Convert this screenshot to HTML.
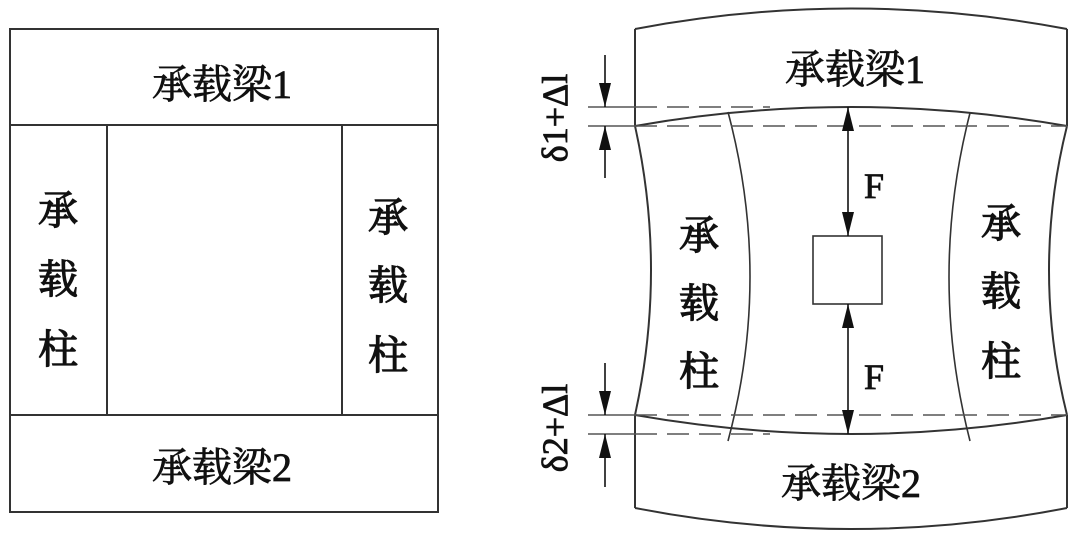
<!DOCTYPE html>
<html><head><meta charset="utf-8"><style>
html,body{margin:0;padding:0;background:#fff;}
svg{display:block;}
text{font-family:"Liberation Serif","Noto Serif CJK SC","Noto Sans CJK SC",serif;fill:#111;}
</style></head><body>
<svg width="1080" height="538" viewBox="0 0 1080 538" xmlns="http://www.w3.org/2000/svg">
<defs>
<marker id="ah2" viewBox="0 0 24 12" refX="24" refY="6" markerWidth="24" markerHeight="12" orient="auto" markerUnits="userSpaceOnUse">
<path d="M0,0 L24,6 L0,12 z" fill="#111"/></marker>
</defs>
<g fill="none" stroke="#333" stroke-width="2">
<rect x="10" y="29" width="428" height="483"/>
<line x1="10" y1="125" x2="438" y2="125"/>
<line x1="10" y1="415" x2="438" y2="415"/>
<line x1="107" y1="125" x2="107" y2="415"/>
<line x1="342" y1="125" x2="342" y2="415"/>
</g>
<g font-size="40" text-anchor="middle" stroke="#111" stroke-width="0.8">
<text x="222" y="98">承载梁1</text>
<text x="222" y="481">承载梁2</text>
</g>
<g font-size="40" text-anchor="middle" stroke="#111" stroke-width="1.2">
<text x="58" y="224">承</text><text x="58" y="293">载</text><text x="58" y="363">柱</text>
<text x="388" y="231">承</text><text x="388" y="299">载</text><text x="388" y="369">柱</text>
</g>

<g fill="none" stroke="#333" stroke-width="2">
<path d="M635,29 Q851,-12 1067,29"/>
<line x1="635" y1="29" x2="635" y2="126"/>
<line x1="1067" y1="29" x2="1067" y2="126"/>
<path d="M635,126 Q851,88 1067,126"/>
<path d="M635,126 Q667,270 635,415"/>
<path d="M1067,126 Q1031,270 1067,415"/>
<path d="M728,112 Q772,277 728,441" stroke-width="1.6"/>
<path d="M970,113 Q928,277 970,441" stroke-width="1.6"/>
<path d="M635,415 Q851,453 1067,415"/>
<line x1="635" y1="415" x2="635" y2="508"/>
<line x1="1067" y1="415" x2="1067" y2="508"/>
<path d="M635,508 Q851,550 1067,508"/>
<rect x="813" y="236" width="69" height="68" stroke-width="1.6"/>
</g>
<g stroke="#555" stroke-width="1.5" fill="none">
<line x1="588" y1="107" x2="635" y2="107"/>
<line x1="635" y1="107" x2="770" y2="107" stroke-dasharray="22,10"/>
<line x1="588" y1="126" x2="635" y2="126"/>
<line x1="635" y1="126" x2="1067" y2="126" stroke-dasharray="22,10"/>
<line x1="588" y1="415" x2="635" y2="415"/>
<line x1="635" y1="415" x2="1067" y2="415" stroke-dasharray="22,10"/>
<line x1="588" y1="434" x2="635" y2="434"/>
<line x1="635" y1="434" x2="770" y2="434" stroke-dasharray="22,10"/>
</g>
<g stroke="#111" stroke-width="1.6">
<line x1="605" y1="55" x2="605" y2="107" marker-end="url(#ah2)"/>
<line x1="605" y1="178" x2="605" y2="126" marker-end="url(#ah2)"/>
<line x1="605" y1="363" x2="605" y2="415" marker-end="url(#ah2)"/>
<line x1="605" y1="487" x2="605" y2="434" marker-end="url(#ah2)"/>
<line x1="848" y1="170" x2="848" y2="107" marker-end="url(#ah2)"/>
<line x1="848" y1="170" x2="848" y2="236" marker-end="url(#ah2)"/>
<line x1="848" y1="370" x2="848" y2="304" marker-end="url(#ah2)"/>
<line x1="848" y1="370" x2="848" y2="434" marker-end="url(#ah2)"/>
</g>
<g font-size="36" text-anchor="middle" stroke="#111" stroke-width="0.8">
<text x="874" y="198">F</text>
<text x="874" y="389">F</text>
<text transform="translate(567,118) rotate(-90)">δ1+Δl</text>
<text transform="translate(567,428) rotate(-90)">δ2+Δl</text>
</g>
<g font-size="40" text-anchor="middle" stroke="#111" stroke-width="0.8">
<text x="855" y="83">承载梁1</text>
<text x="851" y="497">承载梁2</text>
</g>
<g font-size="40" text-anchor="middle" stroke="#111" stroke-width="1.2">
<text x="699" y="249">承</text><text x="699" y="317">载</text><text x="699" y="385">柱</text>
<text x="1001" y="237">承</text><text x="1001" y="305">载</text><text x="1001" y="375">柱</text>
</g>
</svg>
</body></html>
